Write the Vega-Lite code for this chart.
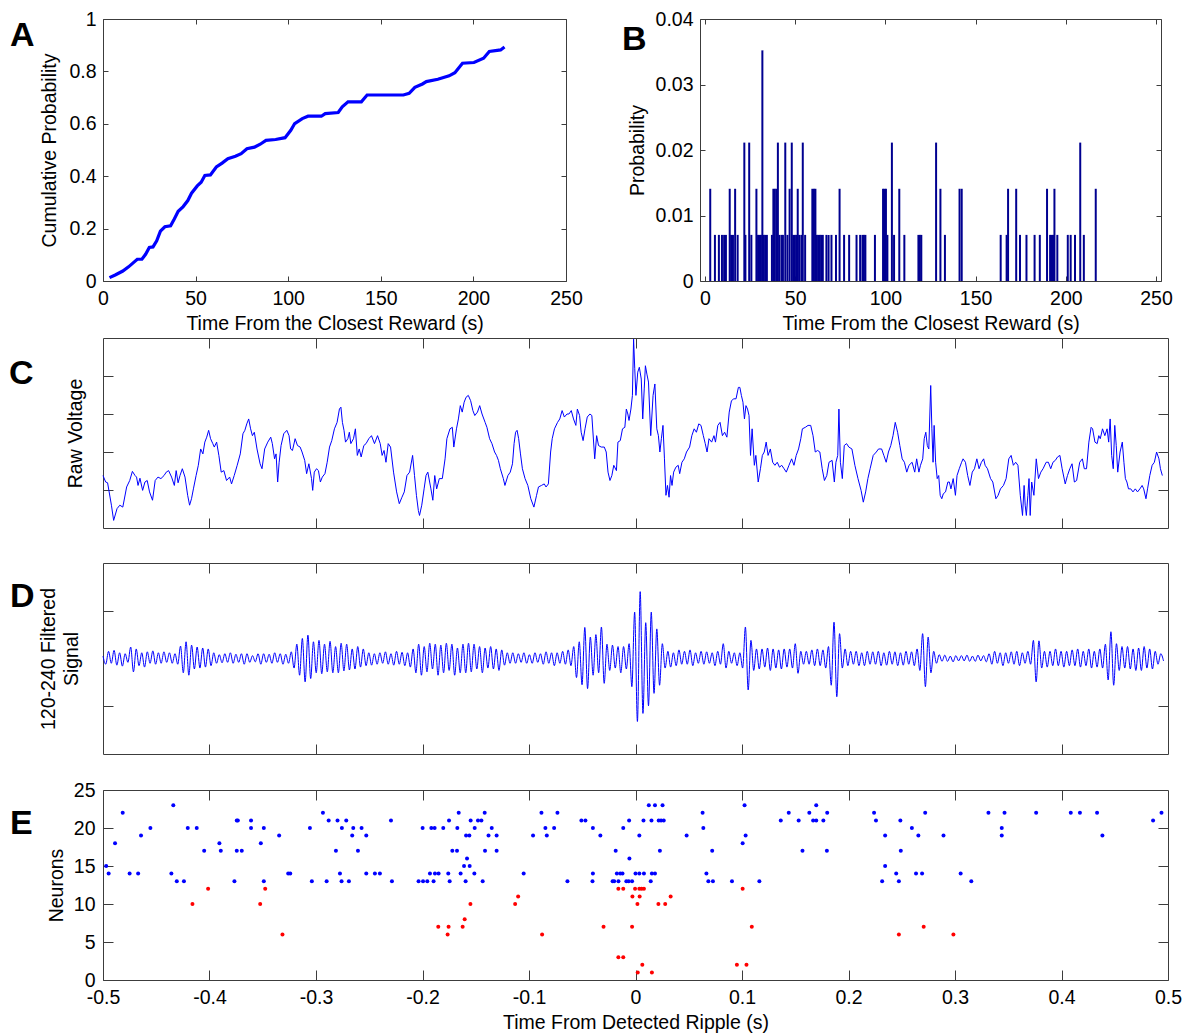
{
"$schema": "https://vega.github.io/schema/vega-lite/v6.json",
"background": "white",
"padding": {"left": 8, "top": 8, "right": 5, "bottom": 5},
"spacing": 2,
"config": {
  "font": "Liberation Sans",
  "locale": {"number": {"decimal": ".", "thousands": ",", "grouping": [3], "currency": ["$", ""], "minus": "-"}},
  "view": {"stroke": "#3c3c3c", "strokeWidth": 1},
  "axis": {"domain": false, "grid": false, "tickColor": "#3c3c3c", "tickWidth": 1, "labelFontSize": 19.5, "labelColor": "#000000", "labelFont": "Liberation Sans", "labelFlush": false, "labelOverlap": false, "titleFontSize": 19.5, "titleFontWeight": "normal", "titleColor": "#000000", "titleFont": "Liberation Sans"},
  "title": {"font": "Liberation Sans", "fontSize": 34, "fontWeight": "bold", "color": "#000000", "anchor": "start", "frame": "group", "offset": 0, "baseline": "alphabetic"}
},
"vconcat": [
{
  "spacing": 38,
  "hconcat": [
  {
    "title": {"text": "A", "dx": -93, "dy": 48},
    "width": 463, "height": 262,
    "data": {"values": [
      {"t":3.5,"p":0.013},{"t":6.6,"p":0.023},{"t":10.7,"p":0.038},{"t":13.8,"p":0.054},{"t":16.9,"p":0.073},{"t":18.5,"p":0.083},{"t":21,"p":0.083},{"t":23,"p":0.102},{"t":25,"p":0.128},{"t":27,"p":0.13},{"t":29,"p":0.153},{"t":31,"p":0.19},{"t":33.4,"p":0.207},{"t":36.5,"p":0.211},{"t":38.5,"p":0.237},{"t":40.6,"p":0.266},{"t":43.3,"p":0.284},{"t":45.8,"p":0.307},{"t":47.8,"p":0.335},{"t":50.9,"p":0.363},{"t":53,"p":0.377},{"t":55,"p":0.403},{"t":58,"p":0.405},{"t":61.2,"p":0.435},{"t":64.3,"p":0.45},{"t":67.4,"p":0.467},{"t":71.5,"p":0.476},{"t":74.6,"p":0.486},{"t":77.7,"p":0.505},{"t":81.8,"p":0.511},{"t":84.9,"p":0.522},{"t":88,"p":0.537},{"t":93.2,"p":0.54},{"t":98.3,"p":0.547},{"t":101.4,"p":0.575},{"t":103.5,"p":0.601},{"t":107.6,"p":0.62},{"t":110.7,"p":0.629},{"t":117.9,"p":0.629},{"t":120,"p":0.639},{"t":127,"p":0.643},{"t":129.2,"p":0.665},{"t":132.3,"p":0.684},{"t":139.5,"p":0.684},{"t":142.6,"p":0.71},{"t":162.2,"p":0.71},{"t":165.3,"p":0.716},{"t":168.4,"p":0.739},{"t":172.5,"p":0.752},{"t":174.6,"p":0.761},{"t":180.8,"p":0.77},{"t":186.9,"p":0.783},{"t":190,"p":0.795},{"t":194.1,"p":0.831},{"t":200.3,"p":0.834},{"t":205.5,"p":0.85},{"t":208.6,"p":0.876},{"t":214.7,"p":0.882},{"t":216.8,"p":0.893}
    ]},
    "layer": [
      {"mark": {"type": "line", "color": "#0000FF", "strokeWidth": 3.2},
       "encoding": {
         "x": {"field": "t", "type": "quantitative", "scale": {"domain": [0, 250], "nice": false}, "axis": {"values": [0,50,100,150,200,250], "format": "~r", "tickSize": -5, "labelPadding": 13, "title": "Time From the Closest Reward (s)", "titlePadding": 7}},
         "y": {"field": "p", "type": "quantitative", "scale": {"domain": [0, 1], "nice": false}, "axis": {"values": [0,0.2,0.4,0.6,0.8,1], "format": "~r", "tickSize": -5, "labelPadding": 12, "title": "Cumulative Probability", "titlePadding": 9}}
       }},
      {"mark": {"type": "line", "opacity": 0},
       "encoding": {
         "x": {"field": "t", "type": "quantitative", "axis": {"orient": "top", "values": [0,50,100,150,200,250], "labels": false, "tickSize": -5, "title": null}},
         "y": {"field": "p", "type": "quantitative", "axis": {"orient": "right", "values": [0,0.2,0.4,0.6,0.8,1], "labels": false, "tickSize": -5, "title": null}}
       }}
    ],
    "resolve": {"axis": {"x": "independent", "y": "independent"}}
  },
  {
    "title": {"text": "B", "dx": -78, "dy": 52},
    "width": 461, "height": 262,
    "data": {"values": [
      {"t":2.9,"p":0.01408},{"t":5.5,"p":0.00704},{"t":7.7,"p":0.00704},{"t":9.4,"p":0.00704},{"t":10.6,"p":0.00704},{"t":11.6,"p":0.00704},{"t":13.7,"p":0.01408},{"t":14.5,"p":0.00704},{"t":15.5,"p":0.00704},{"t":16.7,"p":0.01408},{"t":18.1,"p":0.00704},{"t":21.8,"p":0.02113},{"t":22.4,"p":0.00704},{"t":24.5,"p":0.02113},{"t":25.7,"p":0.00704},{"t":28.5,"p":0.01408},{"t":29.4,"p":0.00704},{"t":30.2,"p":0.00704},{"t":31.0,"p":0.00704},{"t":31.8,"p":0.03521},{"t":32.6,"p":0.00704},{"t":33.4,"p":0.00704},{"t":34.3,"p":0.00704},{"t":37.1,"p":0.00704},{"t":37.9,"p":0.01408},{"t":38.7,"p":0.01408},{"t":39.6,"p":0.01408},{"t":40.4,"p":0.02113},{"t":41.2,"p":0.00704},{"t":42.4,"p":0.00704},{"t":43.2,"p":0.00704},{"t":44.5,"p":0.02113},{"t":45.7,"p":0.00704},{"t":46.9,"p":0.01408},{"t":48.1,"p":0.02113},{"t":48.9,"p":0.00704},{"t":49.8,"p":0.00704},{"t":50.6,"p":0.00704},{"t":51.4,"p":0.01408},{"t":52.2,"p":0.00704},{"t":53.4,"p":0.00704},{"t":54.2,"p":0.02113},{"t":55.5,"p":0.00704},{"t":59.5,"p":0.01408},{"t":60.4,"p":0.01408},{"t":61.2,"p":0.01408},{"t":62.0,"p":0.00704},{"t":62.8,"p":0.00704},{"t":63.6,"p":0.00704},{"t":64.4,"p":0.00704},{"t":65.3,"p":0.00704},{"t":67.3,"p":0.00704},{"t":68.5,"p":0.00704},{"t":70.1,"p":0.00704},{"t":72.6,"p":0.00704},{"t":74.6,"p":0.01408},{"t":77.1,"p":0.00704},{"t":79.9,"p":0.00704},{"t":84.0,"p":0.00704},{"t":86.0,"p":0.00704},{"t":87.3,"p":0.00704},{"t":88.1,"p":0.00704},{"t":88.9,"p":0.00704},{"t":94.2,"p":0.00704},{"t":98.7,"p":0.01408},{"t":99.5,"p":0.01408},{"t":100.3,"p":0.01408},{"t":101.1,"p":0.00704},{"t":103.6,"p":0.02113},{"t":104.8,"p":0.00704},{"t":107.7,"p":0.01408},{"t":110.5,"p":0.00704},{"t":118.3,"p":0.00704},{"t":119.1,"p":0.00704},{"t":119.9,"p":0.00704},{"t":128.1,"p":0.02113},{"t":130.5,"p":0.01408},{"t":133.0,"p":0.00704},{"t":141.1,"p":0.01408},{"t":142.3,"p":0.01408},{"t":163.9,"p":0.00704},{"t":167.2,"p":0.00704},{"t":168.0,"p":0.01408},{"t":172.5,"p":0.01408},{"t":174.6,"p":0.00704},{"t":178.2,"p":0.00704},{"t":182.7,"p":0.00704},{"t":185.6,"p":0.00704},{"t":189.6,"p":0.01408},{"t":191.3,"p":0.00704},{"t":192.1,"p":0.00704},{"t":192.9,"p":0.00704},{"t":193.7,"p":0.01408},{"t":195.3,"p":0.00704},{"t":201.1,"p":0.00704},{"t":202.7,"p":0.00704},{"t":205.1,"p":0.00704},{"t":208.0,"p":0.02113},{"t":210.0,"p":0.00704},{"t":216.6,"p":0.01408}
    ]},
    "layer": [
      {"mark": {"type": "bar", "color": "#000090", "width": 2},
       "encoding": {
         "x": {"field": "t", "type": "quantitative", "scale": {"domain": [0, 250], "nice": false}, "axis": {"values": [0,50,100,150,200,250], "format": "~r", "tickSize": -5, "labelPadding": 13, "title": "Time From the Closest Reward (s)", "titlePadding": 7}},
         "y": {"field": "p", "type": "quantitative", "scale": {"domain": [0, 0.04], "nice": false}, "axis": {"values": [0,0.01,0.02,0.03,0.04], "format": "~r", "tickSize": -5, "labelPadding": 12, "title": "Probability", "titlePadding": 8}}
       }},
      {"mark": {"type": "bar", "opacity": 0, "width": 2},
       "encoding": {
         "x": {"field": "t", "type": "quantitative", "axis": {"orient": "top", "values": [0,50,100,150,200,250], "labels": false, "tickSize": -5, "title": null}},
         "y": {"field": "p", "type": "quantitative", "axis": {"orient": "right", "values": [0,0.01,0.02,0.03,0.04], "labels": false, "tickSize": -5, "title": null}}
       }}
    ],
    "resolve": {"axis": {"x": "independent", "y": "independent"}}
  }
  ]
},
{
  "title": {"text": "C", "dx": -94, "dy": 58},
  "width": 1065, "height": 190,
  "data": {"values": [
    {"t":-0.5,"v":1.38},{"t":-0.4975,"v":1.21},{"t":-0.4957,"v":1.19},{"t":-0.4921,"v":0.6},{"t":-0.49,"v":0.2},{"t":-0.4868,"v":0.51},{"t":-0.4842,"v":0.6},{"t":-0.4814,"v":0.55},{"t":-0.4778,"v":1.08},{"t":-0.4749,"v":1.25},{"t":-0.4724,"v":1.49},{"t":-0.4699,"v":1.38},{"t":-0.4685,"v":1.34},{"t":-0.4671,"v":1.12},{"t":-0.4653,"v":1.31},{"t":-0.4628,"v":0.99},{"t":-0.4606,"v":1.21},{"t":-0.4585,"v":1.25},{"t":-0.4563,"v":0.95},{"t":-0.4535,"v":0.73},{"t":-0.451,"v":1.25},{"t":-0.4484,"v":1.34},{"t":-0.4456,"v":1.3},{"t":-0.4427,"v":1.38},{"t":-0.4406,"v":1.47},{"t":-0.4384,"v":1.51},{"t":-0.4356,"v":1.34},{"t":-0.433,"v":1.12},{"t":-0.4313,"v":1.51},{"t":-0.4295,"v":1.19},{"t":-0.4277,"v":1.38},{"t":-0.4255,"v":1.56},{"t":-0.423,"v":1.34},{"t":-0.4205,"v":0.86},{"t":-0.4187,"v":0.6},{"t":-0.4169,"v":0.77},{"t":-0.4151,"v":1.03},{"t":-0.4126,"v":1.38},{"t":-0.4105,"v":1.65},{"t":-0.4083,"v":2.08},{"t":-0.4062,"v":1.95},{"t":-0.4044,"v":2.26},{"t":-0.4026,"v":2.39},{"t":-0.4008,"v":2.57},{"t":-0.399,"v":2.35},{"t":-0.3969,"v":2.22},{"t":-0.3955,"v":2.13},{"t":-0.3933,"v":2.26},{"t":-0.3912,"v":1.91},{"t":-0.389,"v":1.47},{"t":-0.3865,"v":1.51},{"t":-0.384,"v":1.25},{"t":-0.3811,"v":1.34},{"t":-0.3793,"v":1.16},{"t":-0.3768,"v":1.38},{"t":-0.374,"v":1.65},{"t":-0.3711,"v":1.95},{"t":-0.3686,"v":2.48},{"t":-0.3668,"v":2.57},{"t":-0.365,"v":2.74},{"t":-0.3632,"v":2.87},{"t":-0.3614,"v":2.61},{"t":-0.3597,"v":2.43},{"t":-0.3579,"v":2.52},{"t":-0.3554,"v":2.08},{"t":-0.3525,"v":1.69},{"t":-0.3507,"v":1.56},{"t":-0.3482,"v":2.08},{"t":-0.3453,"v":2.26},{"t":-0.3425,"v":2.39},{"t":-0.341,"v":2.22},{"t":-0.3389,"v":1.82},{"t":-0.3375,"v":1.95},{"t":-0.336,"v":1.21},{"t":-0.3346,"v":1.73},{"t":-0.3328,"v":2.17},{"t":-0.3303,"v":2.48},{"t":-0.3274,"v":2.57},{"t":-0.3253,"v":2.43},{"t":-0.3238,"v":2.08},{"t":-0.3221,"v":2.04},{"t":-0.3196,"v":2.35},{"t":-0.3174,"v":2.17},{"t":-0.3149,"v":2.13},{"t":-0.3131,"v":2.0},{"t":-0.3106,"v":1.78},{"t":-0.3088,"v":1.43},{"t":-0.3067,"v":1.69},{"t":-0.3042,"v":1.3},{"t":-0.3031,"v":0.99},{"t":-0.3016,"v":1.47},{"t":-0.2995,"v":1.56},{"t":-0.2977,"v":1.51},{"t":-0.2959,"v":1.21},{"t":-0.2941,"v":1.34},{"t":-0.2916,"v":1.43},{"t":-0.2895,"v":1.73},{"t":-0.2873,"v":2.13},{"t":-0.2852,"v":2.3},{"t":-0.2827,"v":2.61},{"t":-0.2802,"v":2.78},{"t":-0.278,"v":3.13},{"t":-0.2766,"v":3.18},{"t":-0.2752,"v":2.78},{"t":-0.2737,"v":2.57},{"t":-0.2723,"v":2.26},{"t":-0.2701,"v":2.35},{"t":-0.2687,"v":2.52},{"t":-0.2673,"v":2.22},{"t":-0.2648,"v":2.35},{"t":-0.263,"v":2.61},{"t":-0.2612,"v":1.91},{"t":-0.2594,"v":2.08},{"t":-0.2576,"v":1.87},{"t":-0.2551,"v":2.17},{"t":-0.253,"v":2.22},{"t":-0.2504,"v":2.35},{"t":-0.2479,"v":2.43},{"t":-0.2451,"v":2.22},{"t":-0.2422,"v":2.43},{"t":-0.2397,"v":2.22},{"t":-0.2379,"v":1.91},{"t":-0.2361,"v":2.04},{"t":-0.2343,"v":1.73},{"t":-0.2322,"v":2.22},{"t":-0.23,"v":2.13},{"t":-0.2272,"v":1.47},{"t":-0.2243,"v":0.95},{"t":-0.2218,"v":0.64},{"t":-0.2193,"v":0.81},{"t":-0.2171,"v":0.95},{"t":-0.2146,"v":1.38},{"t":-0.2121,"v":1.47},{"t":-0.2093,"v":1.91},{"t":-0.2075,"v":1.38},{"t":-0.2057,"v":0.86},{"t":-0.2039,"v":0.46},{"t":-0.2028,"v":0.33},{"t":-0.2007,"v":0.6},{"t":-0.1985,"v":1.03},{"t":-0.1967,"v":1.38},{"t":-0.195,"v":1.47},{"t":-0.1921,"v":1.03},{"t":-0.1903,"v":0.73},{"t":-0.1885,"v":1.38},{"t":-0.1867,"v":1.03},{"t":-0.1842,"v":1.3},{"t":-0.1814,"v":1.3},{"t":-0.1788,"v":1.82},{"t":-0.1771,"v":2.35},{"t":-0.1742,"v":2.61},{"t":-0.172,"v":2.65},{"t":-0.1706,"v":2.13},{"t":-0.1681,"v":2.61},{"t":-0.1663,"v":2.87},{"t":-0.1645,"v":3.22},{"t":-0.1627,"v":3.05},{"t":-0.1609,"v":3.31},{"t":-0.1591,"v":3.44},{"t":-0.157,"v":3.49},{"t":-0.1548,"v":3.35},{"t":-0.1527,"v":3.09},{"t":-0.1509,"v":2.96},{"t":-0.1484,"v":3.05},{"t":-0.1463,"v":3.22},{"t":-0.1441,"v":3.0},{"t":-0.1412,"v":2.78},{"t":-0.1395,"v":2.65},{"t":-0.137,"v":2.35},{"t":-0.1348,"v":2.22},{"t":-0.1323,"v":2.0},{"t":-0.1305,"v":1.91},{"t":-0.1287,"v":1.78},{"t":-0.1269,"v":1.56},{"t":-0.1241,"v":1.3},{"t":-0.1226,"v":1.12},{"t":-0.1198,"v":1.38},{"t":-0.1176,"v":1.47},{"t":-0.1155,"v":1.69},{"t":-0.114,"v":2.22},{"t":-0.1126,"v":2.52},{"t":-0.1112,"v":2.57},{"t":-0.1097,"v":2.35},{"t":-0.108,"v":1.95},{"t":-0.1062,"v":1.56},{"t":-0.1037,"v":1.3},{"t":-0.1011,"v":1.12},{"t":-0.0983,"v":0.77},{"t":-0.0954,"v":0.55},{"t":-0.0929,"v":0.86},{"t":-0.0911,"v":1.08},{"t":-0.0883,"v":1.12},{"t":-0.0857,"v":1.16},{"t":-0.084,"v":1.08},{"t":-0.0818,"v":1.16},{"t":-0.0797,"v":2.0},{"t":-0.0782,"v":2.35},{"t":-0.0761,"v":2.61},{"t":-0.0732,"v":2.78},{"t":-0.0711,"v":2.87},{"t":-0.0689,"v":3.09},{"t":-0.0668,"v":2.92},{"t":-0.0643,"v":3.0},{"t":-0.0625,"v":3.0},{"t":-0.0603,"v":3.09},{"t":-0.0582,"v":2.87},{"t":-0.056,"v":2.7},{"t":-0.0546,"v":3.13},{"t":-0.0525,"v":2.96},{"t":-0.051,"v":2.52},{"t":-0.0492,"v":2.3},{"t":-0.0474,"v":2.61},{"t":-0.0453,"v":2.92},{"t":-0.0428,"v":3.0},{"t":-0.041,"v":2.96},
    {"t":-0.0383,"v":1.82},{"t":-0.0365,"v":2.43},{"t":-0.0347,"v":2.17},{"t":-0.0322,"v":2.13},{"t":-0.0293,"v":2.13},{"t":-0.0275,"v":2.0},{"t":-0.0258,"v":1.47},{"t":-0.024,"v":1.25},{"t":-0.0222,"v":1.38},{"t":-0.0204,"v":1.65},{"t":-0.0179,"v":1.51},{"t":-0.0165,"v":2.26},{"t":-0.0143,"v":2.3},{"t":-0.0122,"v":2.61},{"t":-0.01,"v":2.65},{"t":-0.0086,"v":3.13},{"t":-0.0072,"v":3.0},{"t":-0.0061,"v":2.83},{"t":-0.0043,"v":3.13},{"t":-0.0029,"v":3.49},{"t":-0.0018,"v":4.97},{"t":-0.0007,"v":4.19},{"t":0.0004,"v":3.49},{"t":0.0021,"v":4.1},{"t":0.0036,"v":4.23},{"t":0.0054,"v":3.92},{"t":0.0068,"v":2.87},{"t":0.0082,"v":3.66},{"t":0.0093,"v":4.27},{"t":0.0107,"v":4.05},{"t":0.0122,"v":3.84},{"t":0.0143,"v":2.43},{"t":0.0165,"v":3.49},{"t":0.0182,"v":3.79},{"t":0.02,"v":2.61},{"t":0.0215,"v":2.43},{"t":0.0229,"v":2.0},{"t":0.0243,"v":2.35},{"t":0.0258,"v":2.7},{"t":0.0272,"v":1.82},{"t":0.0286,"v":0.86},{"t":0.03,"v":1.12},{"t":0.0315,"v":0.81},{"t":0.0329,"v":1.38},{"t":0.0343,"v":1.12},{"t":0.0358,"v":1.47},{"t":0.0379,"v":1.6},{"t":0.0401,"v":1.65},{"t":0.0415,"v":1.43},{"t":0.0436,"v":1.73},{"t":0.0458,"v":1.82},{"t":0.0479,"v":2.0},{"t":0.0508,"v":2.13},{"t":0.0529,"v":2.43},{"t":0.0551,"v":2.61},{"t":0.0572,"v":2.52},{"t":0.0594,"v":2.74},{"t":0.0615,"v":2.7},{"t":0.0637,"v":2.43},{"t":0.0655,"v":2.22},{"t":0.0672,"v":2.0},{"t":0.069,"v":2.35},{"t":0.0715,"v":2.26},{"t":0.0737,"v":2.43},{"t":0.0751,"v":2.26},{"t":0.0773,"v":2.7},{"t":0.0794,"v":2.78},{"t":0.0816,"v":2.43},{"t":0.0837,"v":2.52},{"t":0.0858,"v":2.39},{"t":0.088,"v":3.05},{"t":0.0901,"v":3.35},{"t":0.0923,"v":3.4},{"t":0.0944,"v":3.4},{"t":0.0966,"v":3.7},{"t":0.098,"v":3.7},{"t":0.0994,"v":3.49},{"t":0.1009,"v":3.31},{"t":0.1023,"v":2.87},{"t":0.1037,"v":3.22},{"t":0.1052,"v":3.13},{"t":0.1066,"v":2.96},{"t":0.108,"v":1.91},{"t":0.1095,"v":2.61},{"t":0.1116,"v":1.65},{"t":0.113,"v":1.91},{"t":0.1152,"v":1.21},{"t":0.1173,"v":1.56},{"t":0.1191,"v":1.91},{"t":0.1209,"v":2.0},{"t":0.1227,"v":2.26},{"t":0.1245,"v":1.91},{"t":0.1266,"v":2.08},{"t":0.1288,"v":1.73},{"t":0.1309,"v":1.65},{"t":0.1331,"v":1.73},{"t":0.1352,"v":1.6},{"t":0.1373,"v":1.65},{"t":0.1395,"v":1.56},{"t":0.1416,"v":1.47},{"t":0.1441,"v":1.65},{"t":0.1466,"v":1.82},{"t":0.1488,"v":1.65},{"t":0.1509,"v":1.91},{"t":0.1531,"v":2.08},{"t":0.1552,"v":2.35},{"t":0.1567,"v":2.61},{"t":0.1595,"v":2.65},{"t":0.162,"v":2.7},{"t":0.1645,"v":2.7},{"t":0.1667,"v":2.43},{"t":0.1688,"v":2.0},{"t":0.171,"v":2.04},{"t":0.1731,"v":2.0},{"t":0.1753,"v":1.56},{"t":0.1774,"v":1.25},{"t":0.1796,"v":1.38},{"t":0.1817,"v":1.73},{"t":0.1846,"v":1.78},{"t":0.1867,"v":1.21},{"t":0.1882,"v":1.73},{"t":0.1899,"v":1.91},{"t":0.191,"v":3.13},{"t":0.1924,"v":1.73},{"t":0.1942,"v":1.3},{"t":0.196,"v":2.17},{"t":0.1982,"v":2.22},{"t":0.2003,"v":2.13},{"t":0.2032,"v":2.08},{"t":0.206,"v":1.65},{"t":0.2089,"v":1.3},{"t":0.2118,"v":0.99},{"t":0.2139,"v":0.68},{"t":0.2161,"v":0.95},{"t":0.2182,"v":1.3},{"t":0.2203,"v":1.56},{"t":0.2232,"v":1.91},{"t":0.2261,"v":2.0},{"t":0.2282,"v":2.08},{"t":0.2311,"v":2.08},{"t":0.2332,"v":1.91},{"t":0.2354,"v":1.73},{"t":0.2375,"v":2.0},{"t":0.2397,"v":2.17},{"t":0.2418,"v":2.43},{"t":0.2439,"v":2.78},{"t":0.2461,"v":2.52},{"t":0.2482,"v":2.17},{"t":0.2504,"v":1.82},{"t":0.2525,"v":1.73},{"t":0.2547,"v":1.47},{"t":0.2568,"v":1.65},{"t":0.2597,"v":1.73},{"t":0.2622,"v":1.47},{"t":0.264,"v":1.82},{"t":0.2661,"v":1.47},{"t":0.2676,"v":1.65},{"t":0.2697,"v":1.82},{"t":0.2711,"v":2.35},{"t":0.2726,"v":2.52},{"t":0.274,"v":2.17},{"t":0.2754,"v":2.08},{"t":0.2772,"v":3.75},{"t":0.2783,"v":2.61},{"t":0.2794,"v":1.73},{"t":0.2804,"v":2.7},{"t":0.2818,"v":1.73},{"t":0.2833,"v":1.3},{"t":0.2847,"v":1.38},{"t":0.2861,"v":0.86},{"t":0.2876,"v":0.77},{"t":0.289,"v":0.9},{"t":0.2911,"v":0.95},{"t":0.2933,"v":1.21},{"t":0.2947,"v":1.21},{"t":0.2962,"v":1.03},{"t":0.2983,"v":1.3},{"t":0.3004,"v":0.86},{"t":0.3019,"v":1.38},{"t":0.304,"v":1.56},{"t":0.3062,"v":1.73},{"t":0.3076,"v":1.82},{"t":0.3098,"v":1.73},{"t":0.3119,"v":1.38},{"t":0.314,"v":1.12},{"t":0.3162,"v":1.47},{"t":0.3183,"v":1.56},{"t":0.3205,"v":1.82},{"t":0.3226,"v":1.56},{"t":0.3248,"v":1.73},{"t":0.3269,"v":1.82},{"t":0.3283,"v":1.65},{"t":0.3305,"v":1.56},{"t":0.3334,"v":1.3},{"t":0.3355,"v":1.21},{"t":0.3384,"v":0.77},{"t":0.3405,"v":0.86},{"t":0.3427,"v":1.03},{"t":0.3455,"v":1.12},{"t":0.348,"v":1.3},{"t":0.3505,"v":1.82},{"t":0.3527,"v":1.91},{"t":0.3548,"v":1.65},{"t":0.357,"v":1.73},{"t":0.3591,"v":1.65},{"t":0.3613,"v":0.86},{"t":0.3634,"v":0.33},{"t":0.3649,"v":1.12},{"t":0.3659,"v":0.6},{"t":0.367,"v":0.33},{"t":0.3684,"v":0.86},{"t":0.3695,"v":1.3},{"t":0.3706,"v":0.33},{"t":0.372,"v":1.21},{"t":0.3741,"v":0.86},{"t":0.3763,"v":1.82},{"t":0.3784,"v":1.3},{"t":0.3806,"v":1.47},{"t":0.3827,"v":1.56},{"t":0.3856,"v":1.73},{"t":0.3877,"v":1.73},{"t":0.3899,"v":1.56},{"t":0.392,"v":1.73},{"t":0.3942,"v":1.78},{"t":0.3963,"v":1.87},{"t":0.3985,"v":1.91},{"t":0.4006,"v":1.56},{"t":0.4035,"v":1.16},{"t":0.4056,"v":1.38},{"t":0.4078,"v":1.56},{"t":0.4099,"v":1.69},{"t":0.4121,"v":1.21},{"t":0.4142,"v":1.25},{"t":0.4171,"v":1.73},{"t":0.4196,"v":1.82},{"t":0.4214,"v":1.56},{"t":0.4235,"v":1.56},{"t":0.4257,"v":2.26},{"t":0.4278,"v":2.65},{"t":0.4292,"v":2.61},{"t":0.4314,"v":2.26},{"t":0.4335,"v":2.22},{"t":0.435,"v":2.43},{"t":0.4364,"v":2.35},{"t":0.4385,"v":2.61},{"t":0.4407,"v":2.43},{"t":0.4428,"v":2.61},{"t":0.4443,"v":2.26},{"t":0.4457,"v":2.87},{"t":0.4471,"v":1.91},{"t":0.4486,"v":1.56},{"t":0.45,"v":2.7},{"t":0.4514,"v":2.17},{"t":0.4528,"v":1.47},{"t":0.455,"v":2.0},{"t":0.4571,"v":2.26},{"t":0.4586,"v":1.73},{"t":0.46,"v":1.3},{"t":0.4614,"v":1.21},{"t":0.4629,"v":1.03},{"t":0.465,"v":1.03},{"t":0.4671,"v":0.95},{"t":0.4693,"v":1.03},{"t":0.4714,"v":0.95},{"t":0.4736,"v":1.03},{"t":0.4757,"v":1.12},{"t":0.4772,"v":1.03},{"t":0.4793,"v":0.77},{"t":0.4808,"v":1.03},{"t":0.4829,"v":1.38},{"t":0.4851,"v":1.65},{"t":0.4872,"v":1.73},{"t":0.4893,"v":2.0},{"t":0.4915,"v":1.82},{"t":0.4929,"v":1.56},{"t":0.4947,"v":1.38}
  ]},
  "layer": [
    {"mark": {"type": "line", "color": "#0000FF", "strokeWidth": 1},
     "encoding": {
       "x": {"field": "t", "type": "quantitative", "scale": {"domain": [-0.5, 0.5], "nice": false}, "axis": {"values": [-0.4,-0.3,-0.2,-0.1,0,0.1,0.2,0.3,0.4], "labels": false, "tickSize": -10, "title": " ", "titleFontSize": 18, "titlePadding": 13}},
       "y": {"field": "v", "type": "quantitative", "scale": {"domain": [0, 5], "nice": false}, "axis": {"values": [1,2,3,4], "labels": false, "tickSize": -10, "title": "Raw Voltage", "titlePadding": 17}}
     }},
    {"mark": {"type": "line", "opacity": 0},
     "encoding": {
       "x": {"field": "t", "type": "quantitative", "axis": {"orient": "top", "values": [-0.4,-0.3,-0.2,-0.1,0,0.1,0.2,0.3,0.4], "labels": false, "tickSize": -10, "title": null}},
       "y": {"field": "v", "type": "quantitative", "axis": {"orient": "right", "values": [1,2,3,4], "labels": false, "tickSize": -10, "title": null}}
     }}
  ],
  "resolve": {"axis": {"x": "independent", "y": "independent"}}
},
{
  "title": {"text": "D", "dx": -93, "dy": 55},
  "width": 1065, "height": 191,
  "data": {"values": [
    {"t":-0.5,"v":0.05},{"t":-0.4974,"v":-0.12},{"t":-0.4948,"v":0.15},{"t":-0.4922,"v":-0.1},{"t":-0.4896,"v":0.17},{"t":-0.487,"v":-0.14},{"t":-0.4844,"v":0.12},{"t":-0.4818,"v":-0.16},{"t":-0.4792,"v":0.1},{"t":-0.4766,"v":-0.08},
    {"t":-0.474,"v":0.24},{"t":-0.4714,"v":-0.28},{"t":-0.4688,"v":0.2},{"t":-0.4662,"v":-0.15},{"t":-0.4636,"v":0.12},{"t":-0.461,"v":-0.18},{"t":-0.4584,"v":0.14},{"t":-0.4558,"v":-0.1},{"t":-0.4532,"v":0.16},{"t":-0.4506,"v":-0.12},
    {"t":-0.448,"v":0.12},{"t":-0.4454,"v":-0.1},{"t":-0.4428,"v":0.14},{"t":-0.4402,"v":-0.08},{"t":-0.4376,"v":0.12},{"t":-0.435,"v":-0.1},{"t":-0.4324,"v":0.1},{"t":-0.4298,"v":-0.12},{"t":-0.4272,"v":0.26},{"t":-0.4246,"v":-0.3},
    {"t":-0.422,"v":0.35},{"t":-0.4194,"v":-0.35},{"t":-0.4168,"v":0.28},{"t":-0.4142,"v":-0.22},{"t":-0.4116,"v":0.24},{"t":-0.409,"v":-0.2},{"t":-0.4064,"v":0.22},{"t":-0.4038,"v":-0.18},{"t":-0.4012,"v":0.2},{"t":-0.3986,"v":-0.15},
    {"t":-0.396,"v":0.12},{"t":-0.3934,"v":-0.1},{"t":-0.3908,"v":0.08},{"t":-0.3882,"v":-0.09},{"t":-0.3856,"v":0.1},{"t":-0.383,"v":-0.08},{"t":-0.3804,"v":0.12},{"t":-0.3778,"v":-0.1},{"t":-0.3752,"v":0.09},{"t":-0.3726,"v":-0.08},
    {"t":-0.37,"v":0.1},{"t":-0.3674,"v":-0.12},{"t":-0.3648,"v":0.1},{"t":-0.3622,"v":-0.08},{"t":-0.3596,"v":0.06},{"t":-0.357,"v":-0.07},{"t":-0.3544,"v":0.1},{"t":-0.3518,"v":-0.12},{"t":-0.3492,"v":0.1},{"t":-0.3466,"v":-0.08},
    {"t":-0.344,"v":0.09},{"t":-0.3414,"v":-0.1},{"t":-0.3388,"v":0.12},{"t":-0.3362,"v":-0.08},{"t":-0.3336,"v":0.1},{"t":-0.331,"v":-0.12},{"t":-0.3284,"v":0.09},{"t":-0.3258,"v":-0.1},{"t":-0.3232,"v":0.14},{"t":-0.3206,"v":-0.2},
    {"t":-0.318,"v":0.3},{"t":-0.3154,"v":-0.35},{"t":-0.3128,"v":0.42},{"t":-0.3102,"v":-0.49},{"t":-0.3076,"v":0.49},{"t":-0.305,"v":-0.42},{"t":-0.3024,"v":0.35},{"t":-0.2998,"v":-0.3},{"t":-0.2972,"v":0.38},{"t":-0.2946,"v":-0.32},
    {"t":-0.292,"v":0.3},{"t":-0.2894,"v":-0.28},{"t":-0.2868,"v":0.36},{"t":-0.2842,"v":-0.3},{"t":-0.2816,"v":0.25},{"t":-0.279,"v":-0.3},{"t":-0.2764,"v":0.32},{"t":-0.2738,"v":-0.26},{"t":-0.2712,"v":0.3},{"t":-0.2686,"v":-0.24},
    {"t":-0.266,"v":0.2},{"t":-0.2634,"v":-0.22},{"t":-0.2608,"v":0.25},{"t":-0.2582,"v":-0.18},{"t":-0.2556,"v":0.2},{"t":-0.253,"v":-0.15},{"t":-0.2504,"v":0.12},{"t":-0.2478,"v":-0.14},{"t":-0.2452,"v":0.1},{"t":-0.2426,"v":-0.12},
    {"t":-0.24,"v":0.12},{"t":-0.2374,"v":-0.1},{"t":-0.2348,"v":0.14},{"t":-0.2322,"v":-0.12},{"t":-0.2296,"v":0.1},{"t":-0.227,"v":-0.14},{"t":-0.2244,"v":0.15},{"t":-0.2218,"v":-0.12},{"t":-0.2192,"v":0.13},{"t":-0.2166,"v":-0.15},
    {"t":-0.214,"v":0.12},{"t":-0.2114,"v":-0.18},{"t":-0.2088,"v":0.2},{"t":-0.2062,"v":-0.3},{"t":-0.2036,"v":0.3},{"t":-0.201,"v":-0.35},{"t":-0.1984,"v":0.25},{"t":-0.1958,"v":-0.28},{"t":-0.1932,"v":0.32},{"t":-0.1906,"v":-0.22},
    {"t":-0.188,"v":0.3},{"t":-0.1854,"v":-0.35},{"t":-0.1828,"v":0.28},{"t":-0.1802,"v":-0.3},{"t":-0.1776,"v":0.32},{"t":-0.175,"v":-0.25},{"t":-0.1724,"v":0.3},{"t":-0.1698,"v":-0.35},{"t":-0.1672,"v":0.22},{"t":-0.1646,"v":-0.3},
    {"t":-0.162,"v":0.3},{"t":-0.1594,"v":-0.3},{"t":-0.1568,"v":0.32},{"t":-0.1542,"v":-0.28},{"t":-0.1516,"v":0.3},{"t":-0.149,"v":-0.22},{"t":-0.1464,"v":0.25},{"t":-0.1438,"v":-0.3},{"t":-0.1412,"v":0.22},{"t":-0.1386,"v":-0.2},
    {"t":-0.136,"v":0.25},{"t":-0.1334,"v":-0.22},{"t":-0.1308,"v":0.2},{"t":-0.1282,"v":-0.25},{"t":-0.1256,"v":0.18},{"t":-0.123,"v":-0.14},{"t":-0.1204,"v":0.12},{"t":-0.1178,"v":-0.1},{"t":-0.1152,"v":0.12},{"t":-0.1126,"v":-0.1},
    {"t":-0.11,"v":0.1},{"t":-0.1074,"v":-0.08},{"t":-0.1048,"v":0.12},{"t":-0.1022,"v":-0.1},{"t":-0.0996,"v":0.08},{"t":-0.097,"v":-0.1},{"t":-0.0944,"v":0.12},{"t":-0.0918,"v":-0.08},{"t":-0.0892,"v":0.1},{"t":-0.0866,"v":-0.12},
    {"t":-0.084,"v":0.14},{"t":-0.0814,"v":-0.1},{"t":-0.0788,"v":0.12},{"t":-0.0762,"v":-0.15},{"t":-0.0736,"v":0.12},{"t":-0.071,"v":-0.1},{"t":-0.0684,"v":0.15},{"t":-0.0658,"v":-0.12},{"t":-0.0632,"v":0.18},{"t":-0.0606,"v":-0.15},
    {"t":-0.058,"v":0.25},{"t":-0.0554,"v":-0.4},{"t":-0.0528,"v":0.35},{"t":-0.0502,"v":-0.55},{"t":-0.0476,"v":0.65},{"t":-0.045,"v":-0.63},{"t":-0.0424,"v":0.45},{"t":-0.0398,"v":-0.35},{"t":-0.0372,"v":0.5},{"t":-0.0346,"v":-0.3},
    {"t":-0.032,"v":0.66},{"t":-0.0294,"v":-0.52},{"t":-0.0268,"v":0.3},{"t":-0.0242,"v":-0.25},{"t":-0.0216,"v":0.28},{"t":-0.019,"v":-0.2},{"t":-0.0164,"v":0.25},{"t":-0.0138,"v":-0.3},{"t":-0.0112,"v":0.25},{"t":-0.0086,"v":-0.22},
    {"t":-0.006,"v":0.31},{"t":-0.0034,"v":-0.59},{"t":-0.0008,"v":0.97},{"t":0.0018,"v":-1.32},{"t":0.0044,"v":1.4},{"t":0.007,"v":-1.15},{"t":0.0096,"v":0.75},{"t":0.0122,"v":-0.99},{"t":0.0148,"v":0.97},{"t":0.0174,"v":-0.73},
    {"t":0.02,"v":0.62},{"t":0.0226,"v":-0.56},{"t":0.0252,"v":0.31},{"t":0.0278,"v":-0.2},{"t":0.0304,"v":0.15},{"t":0.033,"v":-0.18},{"t":0.0356,"v":0.12},{"t":0.0382,"v":-0.15},{"t":0.0408,"v":0.18},{"t":0.0434,"v":-0.12},
    {"t":0.046,"v":0.15},{"t":0.0486,"v":-0.12},{"t":0.0512,"v":0.18},{"t":0.0538,"v":-0.15},{"t":0.0564,"v":0.12},{"t":0.059,"v":-0.1},{"t":0.0616,"v":0.15},{"t":0.0642,"v":-0.12},{"t":0.0668,"v":0.14},{"t":0.0694,"v":-0.1},
    {"t":0.072,"v":0.12},{"t":0.0746,"v":-0.15},{"t":0.0772,"v":0.15},{"t":0.0798,"v":-0.12},{"t":0.0824,"v":0.31},{"t":0.085,"v":-0.2},{"t":0.0876,"v":0.15},{"t":0.0902,"v":-0.1},{"t":0.0928,"v":0.12},{"t":0.0954,"v":-0.15},
    {"t":0.098,"v":0.12},{"t":0.1006,"v":-0.2},{"t":0.1032,"v":0.66},{"t":0.1058,"v":-0.66},{"t":0.1084,"v":0.38},{"t":0.111,"v":-0.25},{"t":0.1136,"v":0.2},{"t":0.1162,"v":-0.22},{"t":0.1188,"v":0.2},{"t":0.1214,"v":-0.18},
    {"t":0.124,"v":0.22},{"t":0.1266,"v":-0.25},{"t":0.1292,"v":0.2},{"t":0.1318,"v":-0.2},{"t":0.1344,"v":0.18},{"t":0.137,"v":-0.22},{"t":0.1396,"v":0.2},{"t":0.1422,"v":-0.18},{"t":0.1448,"v":0.2},{"t":0.1474,"v":-0.2},
    {"t":0.15,"v":0.31},{"t":0.1526,"v":-0.31},{"t":0.1552,"v":0.15},{"t":0.1578,"v":-0.12},{"t":0.1604,"v":0.15},{"t":0.163,"v":-0.12},{"t":0.1656,"v":0.18},{"t":0.1682,"v":-0.15},{"t":0.1708,"v":0.2},{"t":0.1734,"v":-0.15},
    {"t":0.176,"v":0.18},{"t":0.1786,"v":-0.2},{"t":0.1812,"v":0.25},{"t":0.1838,"v":-0.56},{"t":0.1864,"v":0.76},{"t":0.189,"v":-0.8},{"t":0.1916,"v":0.52},{"t":0.1942,"v":-0.2},{"t":0.1968,"v":0.2},{"t":0.1994,"v":-0.15},
    {"t":0.202,"v":0.15},{"t":0.2046,"v":-0.12},{"t":0.2072,"v":0.15},{"t":0.2098,"v":-0.15},{"t":0.2124,"v":0.12},{"t":0.215,"v":-0.15},{"t":0.2176,"v":0.15},{"t":0.2202,"v":-0.12},{"t":0.2228,"v":0.14},{"t":0.2254,"v":-0.12},
    {"t":0.228,"v":0.15},{"t":0.2306,"v":-0.15},{"t":0.2332,"v":0.12},{"t":0.2358,"v":-0.14},{"t":0.2384,"v":0.15},{"t":0.241,"v":-0.12},{"t":0.2436,"v":0.14},{"t":0.2462,"v":-0.15},{"t":0.2488,"v":0.12},{"t":0.2514,"v":-0.14},
    {"t":0.254,"v":0.15},{"t":0.2566,"v":-0.12},{"t":0.2592,"v":0.14},{"t":0.2618,"v":-0.15},{"t":0.2644,"v":0.2},{"t":0.267,"v":-0.25},{"t":0.2696,"v":0.52},{"t":0.2722,"v":-0.59},{"t":0.2748,"v":0.45},{"t":0.2774,"v":-0.3},
    {"t":0.28,"v":0.15},{"t":0.2826,"v":-0.1},{"t":0.2852,"v":0.08},{"t":0.2878,"v":-0.06},{"t":0.2904,"v":0.07},{"t":0.293,"v":-0.06},{"t":0.2956,"v":0.05},{"t":0.2982,"v":-0.07},{"t":0.3008,"v":0.06},{"t":0.3034,"v":-0.05},
    {"t":0.306,"v":0.06},{"t":0.3086,"v":-0.05},{"t":0.3112,"v":0.07},{"t":0.3138,"v":-0.06},{"t":0.3164,"v":0.05},{"t":0.319,"v":-0.06},{"t":0.3216,"v":0.07},{"t":0.3242,"v":-0.05},{"t":0.3268,"v":0.06},{"t":0.3294,"v":-0.07},
    {"t":0.332,"v":0.1},{"t":0.3346,"v":-0.12},{"t":0.3372,"v":0.15},{"t":0.3398,"v":-0.1},{"t":0.3424,"v":0.12},{"t":0.345,"v":-0.15},{"t":0.3476,"v":0.12},{"t":0.3502,"v":-0.1},{"t":0.3528,"v":0.14},{"t":0.3554,"v":-0.12},
    {"t":0.358,"v":0.15},{"t":0.3606,"v":-0.15},{"t":0.3632,"v":0.12},{"t":0.3658,"v":-0.1},{"t":0.3684,"v":0.15},{"t":0.371,"v":-0.12},{"t":0.3736,"v":0.38},{"t":0.3762,"v":-0.49},{"t":0.3788,"v":0.37},{"t":0.3814,"v":-0.2},
    {"t":0.384,"v":0.15},{"t":0.3866,"v":-0.18},{"t":0.3892,"v":0.15},{"t":0.3918,"v":-0.15},{"t":0.3944,"v":0.2},{"t":0.397,"v":-0.15},{"t":0.3996,"v":0.15},{"t":0.4022,"v":-0.18},{"t":0.4048,"v":0.15},{"t":0.4074,"v":-0.15},
    {"t":0.41,"v":0.18},{"t":0.4126,"v":-0.15},{"t":0.4152,"v":0.2},{"t":0.4178,"v":-0.18},{"t":0.4204,"v":0.15},{"t":0.423,"v":-0.15},{"t":0.4256,"v":0.2},{"t":0.4282,"v":-0.2},{"t":0.4308,"v":0.15},{"t":0.4334,"v":-0.18},
    {"t":0.436,"v":0.2},{"t":0.4386,"v":-0.2},{"t":0.4412,"v":0.3},{"t":0.4438,"v":-0.45},{"t":0.4464,"v":0.56},{"t":0.449,"v":-0.56},{"t":0.4516,"v":0.31},{"t":0.4542,"v":-0.25},{"t":0.4568,"v":0.25},{"t":0.4594,"v":-0.2},
    {"t":0.462,"v":0.25},{"t":0.4646,"v":-0.22},{"t":0.4672,"v":0.2},{"t":0.4698,"v":-0.25},{"t":0.4724,"v":0.22},{"t":0.475,"v":-0.25},{"t":0.4776,"v":0.25},{"t":0.4802,"v":-0.2},{"t":0.4828,"v":0.2},{"t":0.4854,"v":-0.22},
    {"t":0.488,"v":0.15},{"t":0.4906,"v":-0.12},{"t":0.4932,"v":0.1},{"t":0.4958,"v":-0.05}
  ]},
  "layer": [
    {"mark": {"type": "line", "color": "#0000FF", "strokeWidth": 1, "interpolate": "monotone"},
     "encoding": {
       "x": {"field": "t", "type": "quantitative", "scale": {"domain": [-0.5, 0.5], "nice": false}, "axis": {"values": [-0.4,-0.3,-0.2,-0.1,0,0.1,0.2,0.3,0.4], "labels": false, "tickSize": -10, "title": " ", "titleFontSize": 18, "titlePadding": 4}},
       "y": {"field": "v", "type": "quantitative", "scale": {"domain": [-2, 2], "nice": false}, "axis": {"values": [-1,1], "labels": false, "tickSize": -10, "title": ["120-240 Filtered", "Signal"], "titleLineHeight": 23, "titlePadding": 21}}
     }},
    {"mark": {"type": "line", "opacity": 0},
     "encoding": {
       "x": {"field": "t", "type": "quantitative", "axis": {"orient": "top", "values": [-0.4,-0.3,-0.2,-0.1,0,0.1,0.2,0.3,0.4], "labels": false, "tickSize": -10, "title": null}},
       "y": {"field": "v", "type": "quantitative", "axis": {"orient": "right", "values": [-1,1], "labels": false, "tickSize": -10, "title": null}}
     }}
  ],
  "resolve": {"axis": {"x": "independent", "y": "independent"}}
},
{
  "title": {"text": "E", "dx": -93, "dy": 65},
  "width": 1065, "height": 190,
  "data": {"values": [
    {"t":-0.497,"n":15},{"t":-0.4947,"n":14},{"t":-0.4887,"n":18},{"t":-0.4815,"n":22},{"t":-0.475,"n":14},{"t":-0.467,"n":14},{"t":-0.4643,"n":19},{"t":-0.4555,"n":20},{"t":-0.434,"n":23},{"t":-0.4358,"n":14},{"t":-0.4307,"n":13},{"t":-0.424,"n":13},{"t":-0.4204,"n":20},{"t":-0.412,"n":20},{"t":-0.405,"n":17},{"t":-0.3907,"n":18},{"t":-0.3894,"n":17},{"t":-0.3766,"n":13},{"t":-0.3744,"n":21},{"t":-0.3734,"n":21},{"t":-0.3744,"n":17},{"t":-0.3697,"n":17},{"t":-0.361,"n":21},{"t":-0.361,"n":20},{"t":-0.3518,"n":18},{"t":-0.349,"n":20},{"t":-0.349,"n":13},{"t":-0.3346,"n":19},{"t":-0.3261,"n":14},{"t":-0.3242,"n":14},
    {"t":-0.3057,"n":20},{"t":-0.3039,"n":13},{"t":-0.2935,"n":22},{"t":-0.29,"n":13},{"t":-0.2881,"n":21},{"t":-0.2813,"n":17},{"t":-0.2798,"n":21},{"t":-0.2775,"n":14},{"t":-0.276,"n":13},{"t":-0.2757,"n":20},{"t":-0.2716,"n":21},{"t":-0.2691,"n":13},{"t":-0.266,"n":19},{"t":-0.265,"n":20},{"t":-0.2606,"n":17},{"t":-0.2572,"n":20},{"t":-0.2528,"n":19},{"t":-0.2528,"n":14},{"t":-0.2447,"n":14},{"t":-0.24,"n":14},{"t":-0.2296,"n":21},{"t":-0.2287,"n":13},
    {"t":-0.2037,"n":13},{"t":-0.1995,"n":13},{"t":-0.1999,"n":20},{"t":-0.1955,"n":13},{"t":-0.193,"n":14},{"t":-0.1917,"n":20},{"t":-0.1896,"n":13},{"t":-0.1886,"n":20},{"t":-0.1883,"n":14},{"t":-0.1849,"n":14},{"t":-0.1805,"n":20},{"t":-0.1758,"n":14},{"t":-0.1751,"n":21},{"t":-0.1745,"n":13},{"t":-0.172,"n":17},{"t":-0.1676,"n":17},{"t":-0.1673,"n":20},{"t":-0.166,"n":22},{"t":-0.1642,"n":14},{"t":-0.161,"n":15},{"t":-0.1595,"n":13},{"t":-0.1591,"n":19},{"t":-0.1582,"n":16},{"t":-0.156,"n":19},{"t":-0.1557,"n":15},{"t":-0.1548,"n":21},{"t":-0.1513,"n":14},{"t":-0.151,"n":20},{"t":-0.1479,"n":21},{"t":-0.1447,"n":21},{"t":-0.1416,"n":22},{"t":-0.1435,"n":13},{"t":-0.1413,"n":17},{"t":-0.138,"n":19},{"t":-0.135,"n":20},{"t":-0.1304,"n":19},{"t":-0.1304,"n":17},
    {"t":-0.105,"n":14},{"t":-0.0962,"n":19},{"t":-0.0883,"n":22},{"t":-0.0846,"n":20},{"t":-0.0833,"n":19},{"t":-0.0764,"n":20},{"t":-0.0733,"n":22},{"t":-0.0639,"n":13},{"t":-0.0508,"n":21},{"t":-0.047,"n":21},{"t":-0.04,"n":20},{"t":-0.04,"n":14},{"t":-0.0404,"n":13},{"t":-0.033,"n":19},
    {"t":-0.0215,"n":13},{"t":-0.02,"n":13},{"t":-0.0186,"n":17},{"t":-0.0175,"n":14},{"t":-0.016,"n":13},{"t":-0.0143,"n":14},{"t":-0.0122,"n":14},{"t":-0.0115,"n":20},{"t":-0.0086,"n":13},{"t":-0.0064,"n":13},{"t":-0.006,"n":21},{"t":-0.0057,"n":16},{"t":-0.0032,"n":13},{"t":0,"n":14},{"t":0.0036,"n":14},{"t":0.0036,"n":19},{"t":0.0075,"n":21},{"t":0.0079,"n":14},{"t":0.0125,"n":23},{"t":0.0143,"n":13},{"t":0.015,"n":21},{"t":0.0154,"n":14},{"t":0.0183,"n":14},{"t":0.0183,"n":23},{"t":0.0218,"n":21},{"t":0.0229,"n":17},{"t":0.024,"n":21},{"t":0.0254,"n":23},{"t":0.0265,"n":21},
    {"t":0.048,"n":19},{"t":0.063,"n":22},{"t":0.0637,"n":20},{"t":0.0666,"n":14},{"t":0.0684,"n":13},{"t":0.072,"n":17},{"t":0.0727,"n":13},{"t":0.0906,"n":13},{"t":0.1006,"n":18},{"t":0.1024,"n":23},{"t":0.1034,"n":19},{"t":0.1163,"n":13},
    {"t":0.1364,"n":21},{"t":0.1439,"n":22},{"t":0.1532,"n":21},{"t":0.1568,"n":17},{"t":0.1632,"n":22},{"t":0.1668,"n":21},{"t":0.1697,"n":21},{"t":0.1697,"n":23},{"t":0.1764,"n":21},{"t":0.18,"n":22},{"t":0.1797,"n":17},
    {"t":0.224,"n":22},{"t":0.2258,"n":21},{"t":0.2316,"n":13},{"t":0.2344,"n":19},{"t":0.2344,"n":15},{"t":0.2448,"n":14},{"t":0.2473,"n":13},{"t":0.2487,"n":21},{"t":0.2491,"n":17},{"t":0.2595,"n":20},{"t":0.2634,"n":14},{"t":0.2656,"n":19},{"t":0.2691,"n":14},{"t":0.272,"n":22},{"t":0.2892,"n":19},{"t":0.3053,"n":14},{"t":0.3153,"n":13},{"t":0.3314,"n":22},{"t":0.3439,"n":20},{"t":0.3439,"n":19},{"t":0.3465,"n":22},{"t":0.3762,"n":22},{"t":0.4087,"n":22},{"t":0.4173,"n":22},{"t":0.4334,"n":22},{"t":0.4384,"n":19},{"t":0.486,"n":21},{"t":0.4939,"n":22},
    {"t":-0.416,"n":10},{"t":-0.4013,"n":12},{"t":-0.3524,"n":10},{"t":-0.3477,"n":12},{"t":-0.3315,"n":6},{"t":-0.1852,"n":7},{"t":-0.1764,"n":6},{"t":-0.1755,"n":7},{"t":-0.1623,"n":7},{"t":-0.1604,"n":8},{"t":-0.155,"n":10},{"t":-0.1102,"n":11},{"t":-0.113,"n":10},{"t":-0.0877,"n":6},{"t":-0.03,"n":7},{"t":-0.0161,"n":12},{"t":-0.0115,"n":12},{"t":-0.0004,"n":12},{"t":0.0036,"n":12},{"t":0.0057,"n":12},{"t":0.0079,"n":12},{"t":-0.0029,"n":11},{"t":0.0039,"n":11},{"t":0.033,"n":11},{"t":0.0018,"n":10},{"t":0.0215,"n":10},{"t":0.0279,"n":10},{"t":-0.0032,"n":7},{"t":-0.0161,"n":3},{"t":-0.0115,"n":3},{"t":0.0064,"n":2},{"t":0.0021,"n":1},{"t":0.0154,"n":1},{"t":0.1006,"n":12},{"t":0.0952,"n":2},{"t":0.1042,"n":2},{"t":0.1092,"n":7},{"t":0.2473,"n":6},{"t":0.2706,"n":7},{"t":0.2985,"n":6}
  ]},
  "layer": [
    {"mark": {"type": "circle", "size": 16, "opacity": 1},
     "encoding": {
       "x": {"field": "t", "type": "quantitative", "scale": {"domain": [-0.5, 0.5], "nice": false}, "axis": {"values": [-0.5,-0.4,-0.3,-0.2,-0.1,0,0.1,0.2,0.3,0.4,0.5], "format": "~r", "tickSize": -10, "labelPadding": 18, "title": "Time From Detected Ripple (s)", "titlePadding": 7}},
       "y": {"field": "n", "type": "quantitative", "scale": {"domain": [0, 25], "nice": false}, "axis": {"values": [0,5,10,15,20,25], "format": "~r", "tickSize": -10, "labelPadding": 18, "title": "Neurons", "titlePadding": 7}},
       "color": {"condition": {"test": "datum.n <= 12", "value": "#FF0000"}, "value": "#0000FF"}
     }},
    {"mark": {"type": "circle", "opacity": 0},
     "encoding": {
       "x": {"field": "t", "type": "quantitative", "axis": {"orient": "top", "values": [-0.4,-0.3,-0.2,-0.1,0,0.1,0.2,0.3,0.4], "labels": false, "tickSize": -10, "title": null}},
       "y": {"field": "n", "type": "quantitative", "axis": {"orient": "right", "values": [5,10,15,20], "labels": false, "tickSize": -10, "title": null}}
     }}
  ],
  "resolve": {"axis": {"x": "independent", "y": "independent"}}
}
]
}
